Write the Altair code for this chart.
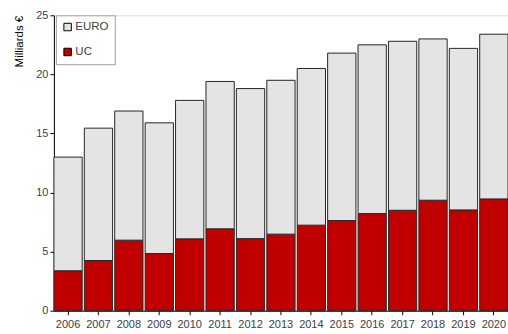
import altair as alt
import pandas as pd

years = [str(y) for y in range(2006, 2021)]
totals = [13.0, 15.45, 16.9, 15.9, 17.8, 19.4, 18.8, 19.5, 20.5, 21.8, 22.5, 22.8, 23.0, 22.2, 23.4]
uc = [3.38, 4.25, 5.97, 4.84, 6.08, 6.93, 6.1, 6.48, 7.24, 7.63, 8.22, 8.5, 9.35, 8.53, 9.46]
euro = [round(t - u, 2) for t, u in zip(totals, uc)]

rows = []
for y, e, u in zip(years, euro, uc):
    rows.append({"year": y, "serie": "UC", "val": u, "ord": 0})
    rows.append({"year": y, "serie": "EURO", "val": e, "ord": 1})
df = pd.DataFrame(rows)

FONT = "Liberation Sans"

chart = alt.Chart(df).mark_bar(stroke="#262626", strokeWidth=1).encode(
    x=alt.X("year:N", title=None,
            scale=alt.Scale(paddingInner=0.07, paddingOuter=0.0),
            axis=alt.Axis(labelAngle=0, labelFontSize=11, labelColor="#404040",
                          domainColor="#000000", tickColor="#000000", tickSize=4,
                          labelPadding=4, grid=False, labelFont=FONT)),
    y=alt.Y("val:Q", title="Milliards €",
            scale=alt.Scale(domain=[0, 25], nice=False),
            axis=alt.Axis(values=[0, 5, 10, 15, 20, 25], labelFontSize=11, labelColor="#404040",
                          domainColor="#000000", tickColor="#000000", tickSize=4, grid=False,
                          titleFontSize=11.5, titleFontWeight="normal", titleColor="#000000",
                          titleAnchor="end", titlePadding=11, labelFont=FONT, titleFont=FONT)),
    color=alt.Color("serie:N", title=None,
                    scale=alt.Scale(domain=["EURO", "UC"], range=["#E4E4E4", "#C00000"]),
                    legend=alt.Legend(orient="none", legendX=2, legendY=0,
                                      strokeColor="#A0A0A0", padding=6,
                                      symbolType="square", symbolSize=56,
                                      symbolStrokeColor="#000000", symbolStrokeWidth=1,
                                      labelFontSize=11.5, labelColor="#404040", labelFont=FONT,
                                      rowPadding=12, labelOffset=2, fillColor="#ffffff")),
    order=alt.Order("ord:Q", sort="ascending"),
).properties(
    width=455, height=296,
    padding={"left": 54, "top": 15, "right": 0, "bottom": 23},
    autosize=alt.AutoSizeParams(type="none"),
).configure_view(stroke=None).configure(font=FONT)

chart.save("out.html", embed_options={"renderer": "svg", "actions": False})
